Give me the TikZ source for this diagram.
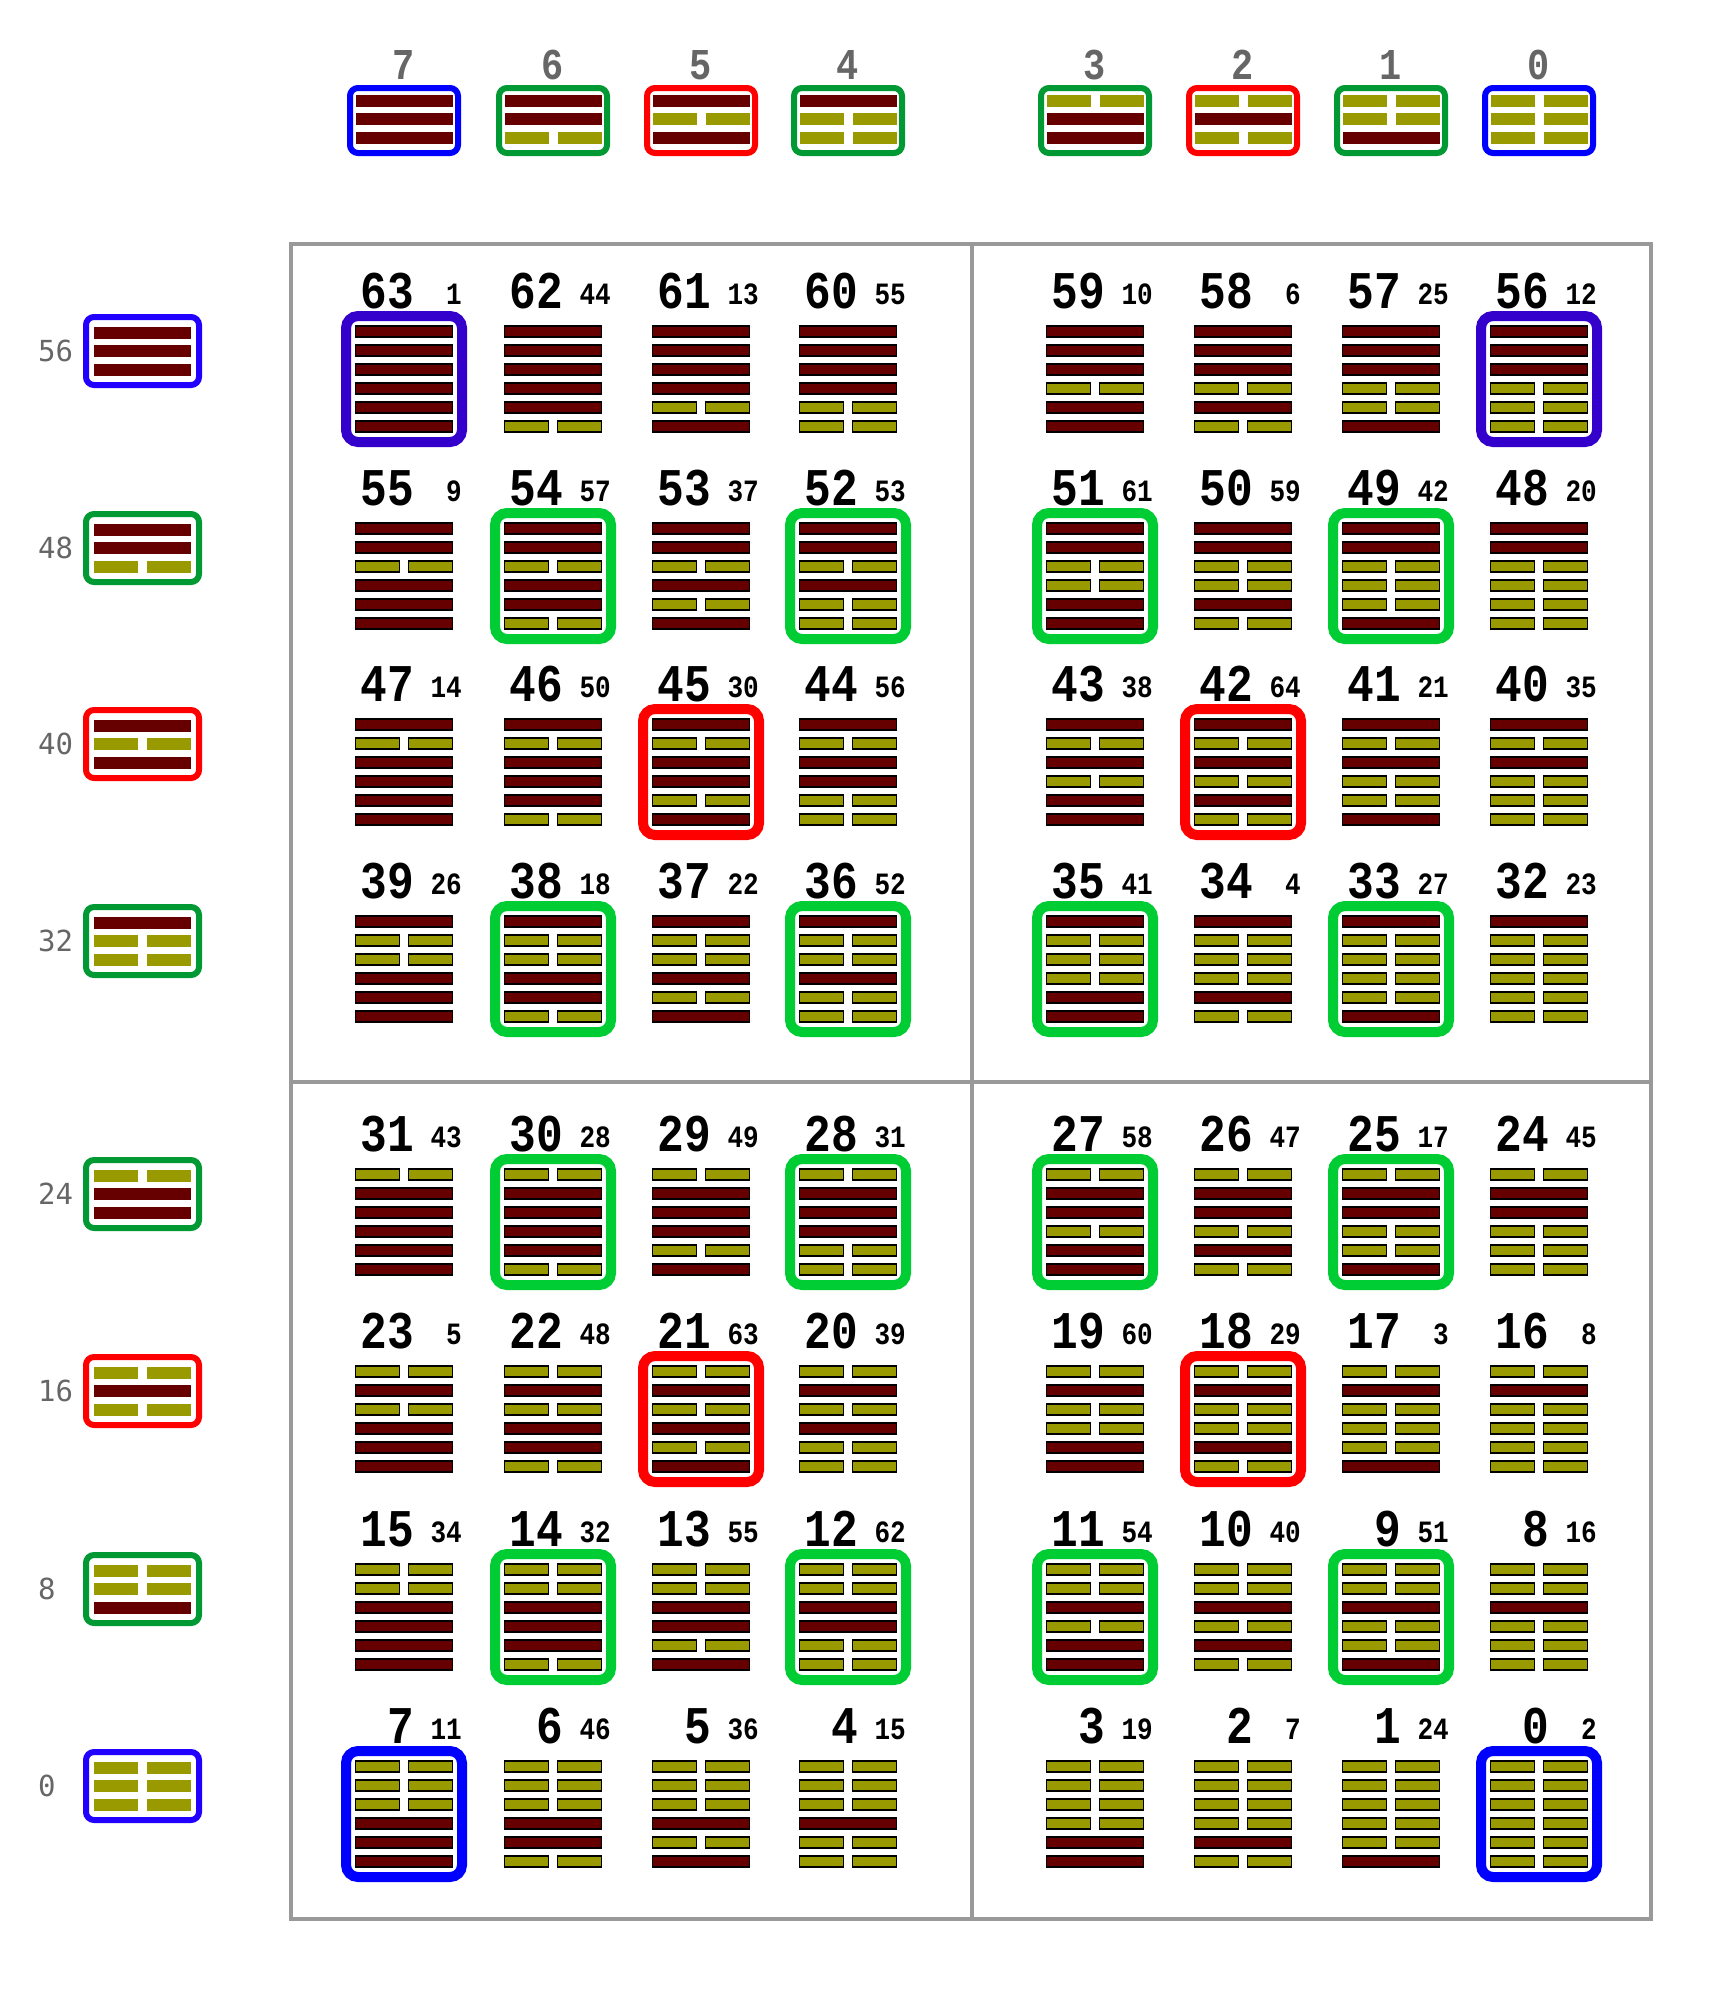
\documentclass[tikz,border=0pt]{standalone}
\usepackage{fontspec}
\setmonofont[FakeStretch=0.84]{Liberation Mono}
\newfontfamily\sidefont{DejaVu Sans Mono}
\usepackage{xcolor}
\definecolor{yangcol}{HTML}{660000}
\definecolor{yincol}{HTML}{999900}
\definecolor{hlgreen}{HTML}{00CC33}
\definecolor{hdgreen}{HTML}{009933}
\definecolor{hlred}{HTML}{FF0000}
\definecolor{hlblue}{HTML}{0000FF}
\definecolor{hlpurple}{HTML}{3300CC}
\definecolor{leftblue}{HTML}{2200FF}
\definecolor{gridgrey}{HTML}{999999}
\definecolor{labelgrey}{HTML}{666666}

\def\colxs{{404,553,701,848,1095,1243,1391,1539}}
\def\rowys{{379,576,772,969,1222,1419,1617,1814}}
\def\kwlist{{2,24,7,19,15,36,46,11,16,51,40,54,62,55,32,34,8,3,29,60,39,63,48,5,45,17,47,58,31,49,28,43,23,27,4,41,52,22,18,26,35,21,64,38,56,30,50,14,20,42,59,61,53,37,57,9,12,25,6,10,55,13,44,1}}

% six lines of a hexagram, bit 0 at the bottom
\newcommand{\hexlines}[3]{%
  \foreach \k in {0,...,5}{%
    \pgfmathtruncatemacro\bit{mod(floor(#1/2^\k),2)}%
    \pgfmathsetmacro\ly{#3+(2.5-\k)*19}%
    \ifnum\bit=1
      \draw[yangbar] ({#2-48.5},{\ly-5.5}) rectangle ({#2+48.5},{\ly+5.5});
    \else
      \draw[yinbar] ({#2-48.5},{\ly-5.5}) rectangle ({#2-4.5},{\ly+5.5});
      \draw[yinbar] ({#2+4.5},{\ly-5.5}) rectangle ({#2+48.5},{\ly+5.5});
    \fi
  }}
% three lines of a trigram
\newcommand{\trilines}[3]{%
  \foreach \k in {0,1,2}{%
    \pgfmathtruncatemacro\bit{mod(floor(#1/2^\k),2)}%
    \pgfmathsetmacro\ly{#3+(1-\k)*18.5}%
    \ifnum\bit=1
      \fill[triyang] ({#2-48.5},{\ly-6}) rectangle ({#2+48.5},{\ly+6});
    \else
      \fill[triyin] ({#2-48.5},{\ly-6}) rectangle ({#2-4.5},{\ly+6});
      \fill[triyin] ({#2+4.5},{\ly-6}) rectangle ({#2+48.5},{\ly+6});
    \fi
  }}

\begin{document}
\begin{tikzpicture}[x=1pt, y=-1pt,
    yangbar/.style={fill=yangcol, draw=black, line width=1.5pt},
    yinbar/.style={fill=yincol, draw=black, line width=1.5pt},
    triyang/.style={fill=yangcol},
    triyin/.style={fill=yincol},
    hexframe/.style={rounded corners=12pt, line width=10pt},
    triframe/.style={rounded corners=8pt, line width=6pt},
    gridline/.style={draw=gridgrey, line width=4pt},
    bignum/.style={font=\fontsize{53}{53}\selectfont\ttfamily\bfseries, anchor=base east, inner sep=0pt},
    kwnum/.style={font=\fontsize{31}{31}\selectfont\ttfamily\bfseries, anchor=base east, inner sep=0pt},
    headnum/.style={font=\fontsize{44}{44}\selectfont\ttfamily\bfseries, text=labelgrey, anchor=base, inner sep=0pt},
    sidenum/.style={font=\fontsize{29}{29}\selectfont\sidefont, text=labelgrey, anchor=base west, inner sep=0pt}
]
    \fill[white] (0,0) rectangle (1708,1994);
    \useasboundingbox (0,0) rectangle (1708,1994);

    % quadrants
    \coordinate (tl) at (291,244);
    \coordinate (br) at (1651,1919);
    \coordinate (mt) at (972,244);
    \coordinate (mb) at (972,1919);
    \coordinate (ml) at (291,1082);
    \coordinate (mr) at (1651,1082);
    \draw[gridline] (tl) rectangle (br);
    \draw[gridline] (mt) -- (mb);
    \draw[gridline] (ml) -- (mr);

    % upper trigrams
    \foreach \tri/\col [count=\idx from 0] in {7/hlblue,6/hdgreen,5/hlred,4/hdgreen,3/hdgreen,2/hlred,1/hdgreen,0/hlblue}{
        \pgfmathsetmacro\cx{\colxs[\idx]}
        \draw[triframe, draw=\col] (\cx-54,88) rectangle (\cx+54,153);
        \trilines{\tri}{\cx}{119}
        \node[headnum] (head\tri) at (\cx,79) {\tri};
    }

    % lower trigrams
    \foreach \tri/\col [count=\idx from 0] in {7/leftblue,6/hdgreen,5/hlred,4/hdgreen,3/hdgreen,2/hlred,1/hdgreen,0/leftblue}{
        \pgfmathsetmacro\cy{\rowys[\idx]-28}
        \pgfmathtruncatemacro\lv{8*\tri}
        \draw[triframe, draw=\col] (86,\cy-34) rectangle (199,\cy+34);
        \trilines{\tri}{142.5}{\cy}
        \node[sidenum] (side\lv) at (38,\cy+10) {\lv};
    }

    % hexagrams
    \foreach \ri in {0,...,7}{
        \foreach \ci in {0,...,7}{
            \pgfmathtruncatemacro\n{(7-\ri)*8+7-\ci}
            \pgfmathsetmacro\cx{\colxs[\ci]}
            \pgfmathsetmacro\cy{\rowys[\ri]}
            \pgfmathtruncatemacro\kw{\kwlist[\n]}
            \hexlines{\n}{\cx}{\cy}
            \node[bignum] (num\n) at (\cx+10,\cy-71) {\n};
            \node[kwnum] (kw\n) at (\cx+58,\cy-75) {\kw};
        }
    }

    % frames
    \foreach \n/\col in {63/hlpurple,56/hlpurple,7/hlblue,0/hlblue,
        45/hlred,42/hlred,21/hlred,18/hlred,
        54/hlgreen,52/hlgreen,51/hlgreen,49/hlgreen,38/hlgreen,36/hlgreen,35/hlgreen,33/hlgreen,
        30/hlgreen,28/hlgreen,27/hlgreen,25/hlgreen,14/hlgreen,12/hlgreen,11/hlgreen,9/hlgreen}{
        \pgfmathtruncatemacro\ci{7-mod(\n,8)}
        \pgfmathtruncatemacro\ri{7-floor(\n/8)}
        \pgfmathsetmacro\cx{\colxs[\ci]}
        \pgfmathsetmacro\cy{\rowys[\ri]}
        \draw[hexframe, draw=\col] (\cx-58,\cy-63) rectangle (\cx+58,\cy+63);
    }
\end{tikzpicture}
\end{document}
